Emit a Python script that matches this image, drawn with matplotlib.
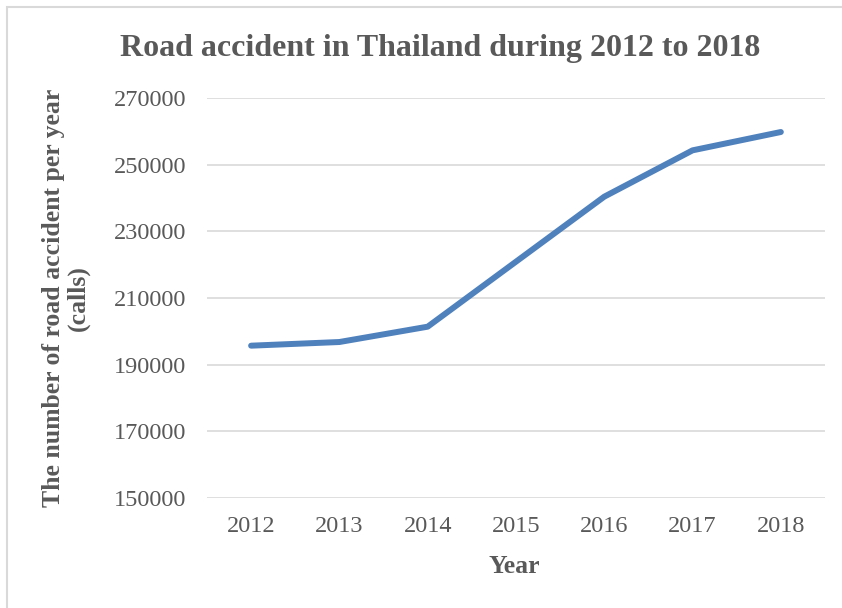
import matplotlib
matplotlib.use('Agg')
import matplotlib.pyplot as plt
from matplotlib.patches import Rectangle

years = ['2012', '2013', '2014', '2015', '2016', '2017', '2018']
accidents = [195700, 196800, 201400, 220900, 240400, 254300, 259800]
y_ticks = [150000, 170000, 190000, 210000, 230000, 250000, 270000]

text_color = '#595959'
plt.rcParams['font.family'] = ['Liberation Serif', 'DejaVu Serif']

fig = plt.figure(figsize=(8.42, 6.08), dpi=100)
ax = fig.add_axes([0.2458, 0.1809, 0.734, 0.6579])

x = list(range(len(years)))
ax.plot(x, accidents, color='#4F81BD', linewidth=4.3, solid_capstyle='round',
        solid_joinstyle='round', zorder=3)

ax.set_xlim(-0.5, len(years) - 0.5)
ax.set_ylim(150000, 270000)
ax.set_yticks(y_ticks)
ax.set_yticklabels([str(v) for v in y_ticks])
ax.set_xticks(x)
ax.set_xticklabels(years)
ax.grid(axis='y', color='#D9D9D9', linewidth=1.2, zorder=0)
ax.grid(axis='x', visible=False)
for s in ax.spines.values():
    s.set_visible(False)
ax.tick_params(axis='both', length=0, labelsize=17.5, labelcolor=text_color)
ax.tick_params(axis='y', pad=15)
ax.tick_params(axis='x', pad=13)

ax.set_ylabel('The number of road accident per year\n(calls)', fontsize=18.5,
              fontweight='bold', color=text_color, linespacing=1.1)
ax.yaxis.set_label_coords(-0.189, 0.5)
ax.set_xlabel('Year', fontsize=18.5, fontweight='bold', color=text_color)
ax.xaxis.set_label_coords(0.498, -0.1425)

fig.text(0.523, 0.921, 'Road accident in Thailand during 2012 to 2018',
         ha='center', va='center', fontsize=23, fontweight='bold', color=text_color)

# chart frame
fig.add_artist(Rectangle((7 / 842, -0.1), 1.1, 1.1 - 7 / 608,
                         transform=fig.transFigure, fill=False,
                         edgecolor='#D9D9D9', linewidth=1.5))

fig.savefig('out.png', dpi=100)
